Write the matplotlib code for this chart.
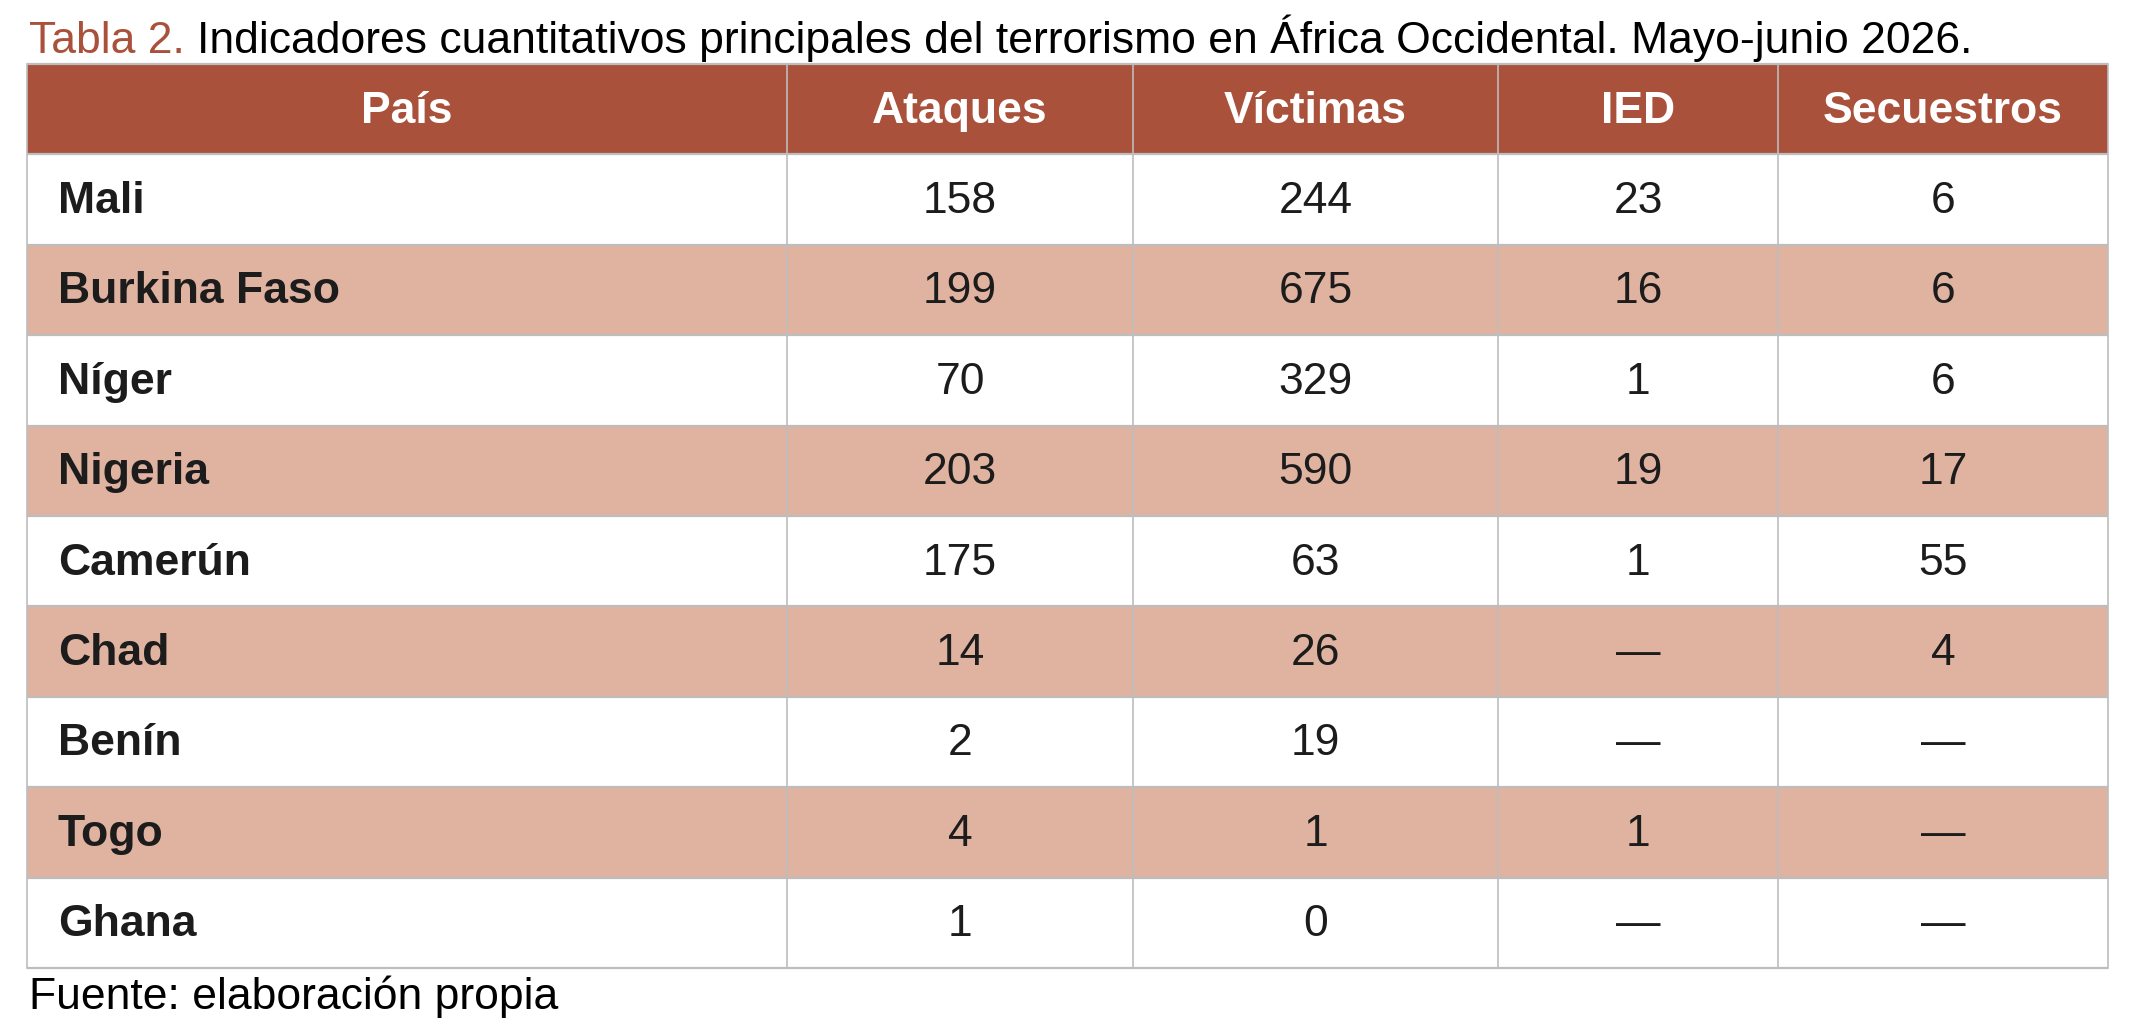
import matplotlib.pyplot as plt
from matplotlib.patches import Rectangle

plt.rcParams['font.family'] = ['Liberation Sans', 'DejaVu Sans']

# --- Data ---
columnas = ["País", "Ataques", "Víctimas", "IED", "Secuestros"]
paises = ["Mali", "Burkina Faso", "Níger", "Nigeria", "Camerún", "Chad", "Benín", "Togo", "Ghana"]
ataques = [158, 199, 70, 203, 175, 14, 2, 4, 1]
victimas = [244, 675, 329, 590, 63, 26, 19, 1, 0]
ied = [23, 16, 1, 19, 1, None, None, 1, None]
secuestros = [6, 6, 6, 17, 55, 4, None, None, None]

# --- Styles ---
header_color = "#A9513A"
band_color = "#E0B3A1"
grid_color = "#BDBDBD"
text_color = "#1C1C1C"
fs = 32

W, H = 2136, 1024
fig = plt.figure(figsize=(W / 100, H / 100), dpi=100)

# column edges in pixels (layout)
edges = [27, 787, 1133, 1498, 1778, 2108]
top, bottom = 64, 968
ax = fig.add_axes([edges[0] / W, 1 - bottom / H, (edges[-1] - edges[0]) / W, (bottom - top) / H])
ax.set_xlim(edges[0], edges[-1])
n_rows = len(paises) + 1
ax.set_ylim(n_rows, 0)
ax.axis("off")


def fmt(v):
    return "\u2014" if v is None else str(v)


valores = [ataques, victimas, ied, secuestros]

# header
ax.add_patch(Rectangle((edges[0], 0), edges[-1] - edges[0], 1, color=header_color, lw=0))
for j, col in enumerate(columnas):
    xc = (edges[j] + edges[j + 1]) / 2
    ax.text(xc, 0.52, col, ha="center", va="center", fontsize=fs, fontweight="bold", color="white")

# body rows
for i, pais in enumerate(paises):
    y = i + 1
    if i % 2 == 1:
        ax.add_patch(Rectangle((edges[0], y), edges[-1] - edges[0], 1, color=band_color, lw=0))
    ax.text(edges[0] + 31, y + 0.52, pais, ha="left", va="center", fontsize=fs,
            fontweight="bold", color=text_color)
    for j, serie in enumerate(valores):
        xc = (edges[j + 1] + edges[j + 2]) / 2
        ax.text(xc, y + 0.52, fmt(serie[i]), ha="center", va="center", fontsize=fs, color=text_color)

# grid lines
for k in range(n_rows + 1):
    ax.plot([edges[0], edges[-1]], [k, k], color=grid_color, lw=1.6, solid_capstyle="butt", clip_on=False)
for e in edges:
    ax.plot([e, e], [0, n_rows], color=grid_color, lw=1.2, clip_on=False)

# --- Title ---
t1 = fig.text(29 / W, 1 - 53 / H, "Tabla 2.", fontsize=fs, color=header_color, ha="left", va="baseline")
fig.canvas.draw()
bb = t1.get_window_extent()
fig.text((bb.x1 + 12) / W, 1 - 53 / H,
         "Indicadores cuantitativos principales del terrorismo en África Occidental. Mayo-junio 2026.",
         fontsize=fs, color="black", ha="left", va="baseline")

# --- Footer ---
fig.text(29 / W, 1 - 1009 / H, "Fuente: elaboración propia", fontsize=fs, color="black",
         ha="left", va="baseline")

fig.savefig("out.png", dpi=100, facecolor="white")
